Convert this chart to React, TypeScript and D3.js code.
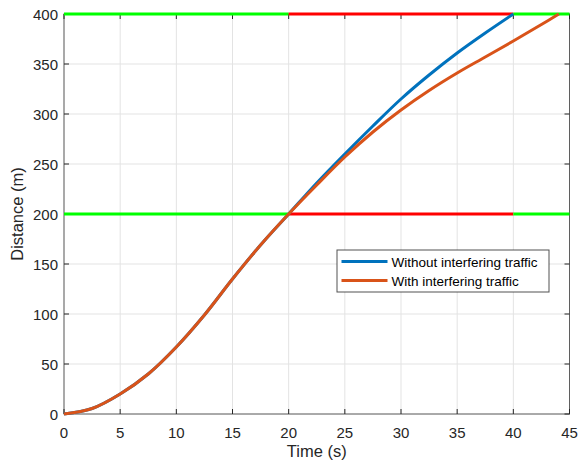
import React from "react";
import * as d3 from "d3";

const times = [0, 2.5, 5, 7.5, 10, 12.5, 15, 17.5, 20, 22.5, 25, 27.5, 30, 32.5, 35, 37.5, 40];
const withoutTraffic = [0, 5.5, 20, 40, 67, 99, 135, 169, 200, 231, 260, 288, 315, 339, 361, 381, 400];
const timesWith = [0, 2.5, 5, 7.5, 10, 12.5, 15, 17.5, 20, 22.5, 25, 27.5, 30, 32.5, 35, 37.5, 40, 42.5, 44.05];
const withTraffic = [0, 5.5, 20, 40, 67, 99, 135, 169, 200, 229, 257, 282, 304, 323.5, 341, 357, 373, 389.5, 400];

const xTicks = [0, 5, 10, 15, 20, 25, 30, 35, 40, 45];
const yTicks = [0, 50, 100, 150, 200, 250, 300, 350, 400];

// threshold segments
const segDist = [400, 400, 400, 200, 200, 200];
const segStart = [0, 20, 40, 0, 20, 40];
const segEnd = [20, 40, 45, 20, 40, 45];
const segColor = ["#00FF00", "#FF0000", "#00FF00", "#00FF00", "#FF0000", "#00FF00"];

const legendLabels = ["Without interfering traffic", "With interfering traffic"];
const seriesColors = ["#0072BD", "#D95319"];

export default function App() {
  const W = 579, H = 463;
  const L = 64, R = 569.5, T = 14, B = 414;
  const x = d3.scaleLinear().domain([0, 45]).range([L, R]);
  const y = d3.scaleLinear().domain([0, 400]).range([B, T]);
  const line = d3
    .line<[number, number]>()
    .x((d) => x(d[0]))
    .y((d) => y(d[1]))
    .curve(d3.curveCatmullRom.alpha(0.5));
  const blue = line(times.map((t, i) => [t, withoutTraffic[i]] as [number, number])) || "";
  const orange = line(timesWith.map((t, i) => [t, withTraffic[i]] as [number, number])) || "";
  const font = "Liberation Sans, Arial, Helvetica, sans-serif";
  const axisCol = "#262626";
  const gridCol = "#e3e3e3";
  const tickLen = 5;

  return (
    <svg width={W} height={H} style={{ position: "fixed", left: 0, top: 0, background: "#fff" }} fontFamily={font}>
      <rect x={0} y={0} width={W} height={H} fill="#fff" />
      {xTicks.map((t) => (
        <line key={"gx" + t} x1={x(t)} x2={x(t)} y1={T} y2={B} stroke={gridCol} strokeWidth={1} />
      ))}
      {yTicks.map((v) => (
        <line key={"gy" + v} x1={L} x2={R} y1={y(v)} y2={y(v)} stroke={gridCol} strokeWidth={1} />
      ))}
      <rect x={L} y={T} width={R - L} height={B - T} fill="none" stroke={axisCol} strokeWidth={1} strokeOpacity={0.7} />
      {xTicks.map((t) => (
        <g key={"tx" + t}>
          <line x1={x(t)} x2={x(t)} y1={B} y2={B - tickLen} stroke={axisCol} />
          <line x1={x(t)} x2={x(t)} y1={T} y2={T + tickLen} stroke={axisCol} />
          <text x={x(t)} y={B + 24} textAnchor="middle" fontSize={15} fill={axisCol}>
            {t}
          </text>
        </g>
      ))}
      {yTicks.map((v) => (
        <g key={"ty" + v}>
          <line x1={L} x2={L + tickLen} y1={y(v)} y2={y(v)} stroke={axisCol} />
          <line x1={R} x2={R - tickLen} y1={y(v)} y2={y(v)} stroke={axisCol} />
          <text x={L - 6} y={y(v) + 5.5} textAnchor="end" fontSize={15} fill={axisCol}>
            {v}
          </text>
        </g>
      ))}
      {segDist.map((dv, i) => (
        <line
          key={"seg" + i}
          x1={x(segStart[i])}
          x2={x(segEnd[i])}
          y1={y(dv)}
          y2={y(dv)}
          stroke={segColor[i]}
          strokeWidth={3}
        />
      ))}
      <path d={blue} fill="none" stroke={seriesColors[0]} strokeWidth={3} />
      <path d={orange} fill="none" stroke={seriesColors[1]} strokeWidth={3} />
      <text x={(L + R) / 2} y={457} textAnchor="middle" fontSize={16.5} fill={axisCol}>
        Time (s)
      </text>
      <text
        transform={`translate(23, ${(T + B) / 2}) rotate(-90)`}
        textAnchor="middle"
        fontSize={16.5}
        fill={axisCol}
      >
        Distance (m)
      </text>
      <g>
        <rect x={337} y={250} width={212} height={42} fill="#fff" stroke={axisCol} strokeWidth={1} strokeOpacity={0.8} />
        {legendLabels.map((lab, i) => (
          <g key={lab}>
            <line x1={341.5} x2={387.5} y1={261.5 + i * 19} y2={261.5 + i * 19} stroke={seriesColors[i]} strokeWidth={3} />
            <text x={391.5} y={266.5 + i * 19} fontSize={13.5} fill="#000">
              {lab}
            </text>
          </g>
        ))}
      </g>
    </svg>
  );
}
